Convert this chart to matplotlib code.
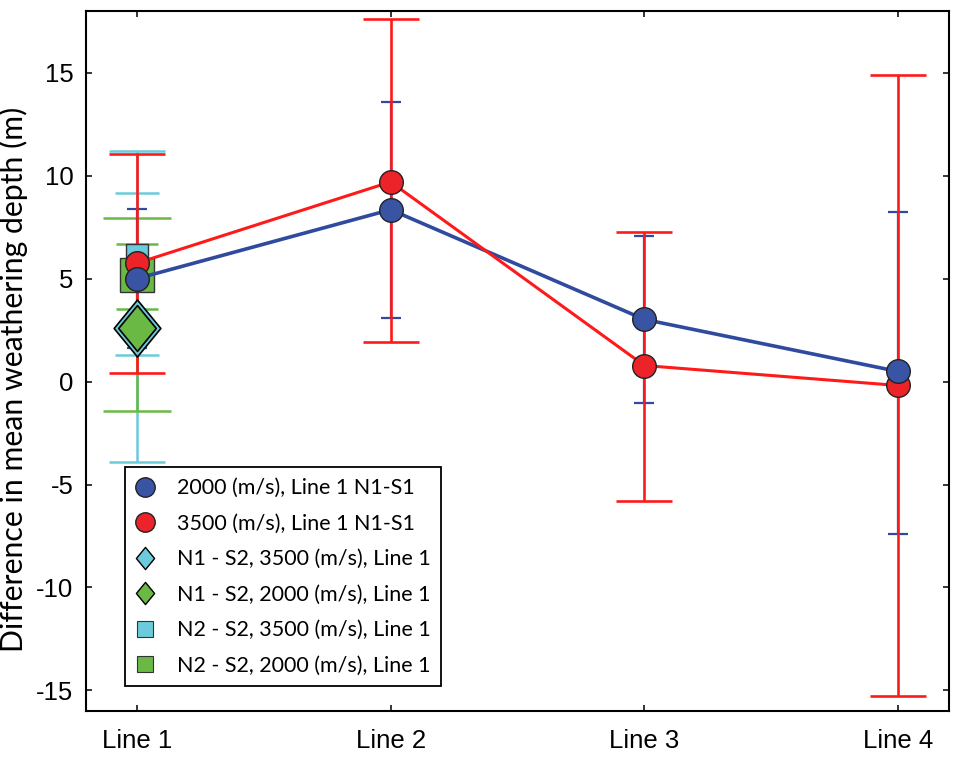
import matplotlib
matplotlib.use("Agg")
import matplotlib.pyplot as plt
from matplotlib.lines import Line2D
from matplotlib.path import Path

plt.rcParams['axes.unicode_minus'] = False

lines = ['Line 1', 'Line 2', 'Line 3', 'Line 4']
xpos = [1, 2, 3, 4]

# N1-S1 differences, two velocities
v2000 = [5.0, 8.35, 3.02, 0.49]
v2000_hi = [8.38, 13.6, 7.09, 8.25]
v2000_lo = [1.63, 3.1, -1.06, -7.38]

v3500 = [5.75, 9.7, 0.78, -0.19]
v3500_hi = [11.05, 17.6, 7.25, 14.9]
v3500_lo = [0.42, 1.9, -5.8, -15.25]

# Line 1 only: N1-S2 (diamonds) and N2-S2 (squares)
n1s2_3500 = 2.6
n1s2_3500_hi, n1s2_3500_lo = 11.18, -3.92
n1s2_2000 = 2.6
n1s2_2000_hi, n1s2_2000_lo = 7.94, -1.41
n2s2_3500 = 6.13
n2s2_3500_hi, n2s2_3500_lo = 9.16, 1.29
n2s2_2000 = 5.16
n2s2_2000_hi, n2s2_2000_lo = 6.68, 3.53

blue = '#2F4A9E'
blue_fill = '#3A54A4'
red = '#FF1A1A'
red_fill = '#EC2329'
cyan = '#6CCBDA'
green = '#6AB945'

diamond = Path([(-0.41, 0), (0, 0.5), (0.41, 0), (0, -0.5), (-0.41, 0)],
               [Path.MOVETO, Path.LINETO, Path.LINETO, Path.LINETO, Path.CLOSEPOLY])

fig = plt.figure(figsize=(9.57, 7.6), dpi=100)
ax = fig.add_axes([0.0899, 0.0645, 0.9017, 0.921])


def err(ax, x, y, hi, lo, color, cap, lw, z):
    ax.errorbar([x], [y], yerr=[[y - lo], [hi - y]], fmt='none', ecolor=color,
                elinewidth=lw, capsize=cap, capthick=lw, zorder=z)


# Line 1 extra error bars
err(ax, 1, n1s2_3500, n1s2_3500_hi, n1s2_3500_lo, cyan, 20, 1.8, 1)
err(ax, 1, n1s2_2000, n1s2_2000_hi, n1s2_2000_lo, green, 24.5, 1.8, 1.1)
err(ax, 1, n2s2_3500, n2s2_3500_hi, n2s2_3500_lo, cyan, 15.5, 1.8, 1.2)
err(ax, 1, n2s2_2000, n2s2_2000_hi, n2s2_2000_lo, green, 14.8, 1.8, 1.3)

for i, x in enumerate(xpos):
    err(ax, x, v2000[i], v2000_hi[i], v2000_lo[i], blue, 7.5, 1.6, 2)
    err(ax, x, v3500[i], v3500_hi[i], v3500_lo[i], red, 20, 1.9, 2.1)

# squares and diamonds on Line 1
ax.plot([1], [n2s2_3500], 's', ms=16.5, mfc=cyan, mec='#333333', mew=1, zorder=3)
ax.plot([1], [n2s2_2000], 's', ms=24, mfc=green, mec='#333333', mew=1, zorder=3.1)
ax.plot([1], [n1s2_3500], marker=diamond, ms=41, mfc=cyan, mec='black', mew=1.2, zorder=3.2)
ax.plot([1], [n1s2_2000], marker=diamond, ms=33, mfc=green, mec='black', mew=1.2, zorder=3.3)

ax.plot(xpos, v2000, '-', color=blue, lw=2.6, zorder=4)
ax.plot(xpos, v3500, '-', color=red, lw=2.2, zorder=4.1)
ax.plot(xpos, v3500, 'o', ms=17, mfc=red_fill, mec='#222222', mew=1, zorder=5)
ax.plot(xpos, v2000, 'o', ms=17, mfc=blue_fill, mec='#222222', mew=1, zorder=5.1)

ax.set_xlim(0.8, 4.2)
ax.set_ylim(-16, 18)
ax.set_xticks(xpos)
ax.set_xticklabels(lines, fontfamily='Liberation Sans', fontsize=18.5)
yt = [-15, -10, -5, 0, 5, 10, 15]
ax.set_yticks(yt)
ax.set_yticklabels([str(v) for v in yt], fontfamily='Liberation Sans', fontsize=18.5)
ax.tick_params(direction='in', top=True, right=True, length=4.5, width=1.1)
ax.tick_params(axis='x', pad=13)
ax.tick_params(axis='y', pad=9)
for s in ax.spines.values():
    s.set_linewidth(1.5)

ax.set_ylabel('Difference in mean weathering depth (m)', fontfamily='Lato',
              fontsize=21.8)
ax.yaxis.set_label_coords(-0.067, 0.474)

handles = [
    Line2D([], [], ls='none', marker='o', ms=14, mfc=blue_fill, mec='#222222'),
    Line2D([], [], ls='none', marker='o', ms=14, mfc=red_fill, mec='#222222'),
    Line2D([], [], ls='none', marker=diamond, ms=16, mfc=cyan, mec='black'),
    Line2D([], [], ls='none', marker=diamond, ms=16, mfc=green, mec='black'),
    Line2D([], [], ls='none', marker='s', ms=11, mfc=cyan, mec='#333333', mew=0.8),
    Line2D([], [], ls='none', marker='s', ms=11, mfc=green, mec='#333333', mew=0.8),
]
labels = [
    '2000 (m/s), Line 1 N1-S1',
    '3500 (m/s), Line 1 N1-S1',
    'N1 - S2, 3500 (m/s), Line 1',
    'N1 - S2, 2000 (m/s), Line 1',
    'N2 - S2, 3500 (m/s), Line 1',
    'N2 - S2, 2000 (m/s), Line 1',
]
leg = ax.legend(handles, labels, loc='lower left', bbox_to_anchor=(0.045, 0.035),
                borderaxespad=0, fancybox=False, framealpha=1, edgecolor='black',
                prop={'family': 'Lato', 'size': 15.5}, labelspacing=0.72,
                handletextpad=1.05, borderpad=0.5, handlelength=0.86)
leg.get_frame().set_linewidth(1.3)
leg.set_zorder(10)

fig.savefig('out.png', dpi=100)
